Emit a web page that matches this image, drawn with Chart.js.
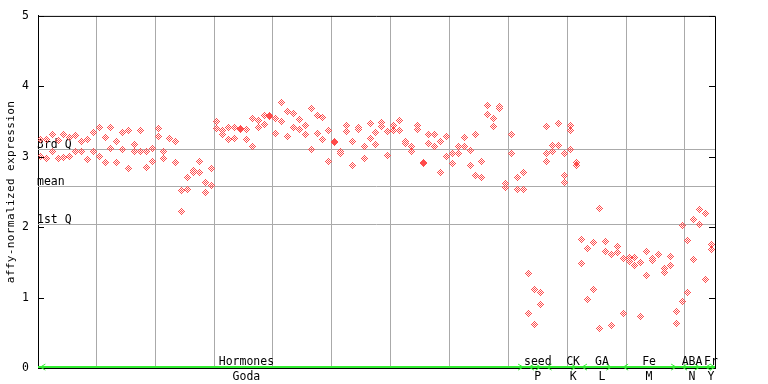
<!DOCTYPE html>
<html>
<head>
<meta charset="utf-8">
<script src="https://cdn.jsdelivr.net/npm/chart.js@4.4.1/dist/chart.umd.min.js"></script>
<style>
  html, body { margin: 0; padding: 0; background: #fff; }
</style>
</head>
<body>
<canvas id="chart" width="768" height="384"></canvas>
<script>
// two replicate values per sample (sample index = position)
const rep1 = [3.25, 3.24, 3.31, 3.23, 3.32, 3.27, 3.30, 3.22, 3.24, 3.34,
  3.42, 3.28, 3.42, 3.21, 3.34, 3.37, 3.18, 3.37, 3.08, 3.12,
  3.40, 3.07, 3.26, 3.21, 2.52, 2.70, 2.80, 2.93, 2.63, 2.83,
  3.50, 3.38, 3.42, 3.42, 3.40, 3.39, 3.54, 3.51, 3.59, 3.58,
  3.54, 3.77, 3.64, 3.61, 3.53, 3.45, 3.69, 3.59, 3.56, 3.38,
  3.22, 3.07, 3.45, 3.21, 3.42, 3.15, 3.47, 3.35, 3.49, 3.36,
  3.45, 3.52, 3.21, 3.15, 3.45, 2.92, 3.32, 3.32, 3.22, 3.29,
  3.04, 3.14, 3.28, 3.09, 3.32, 2.94, 3.73, 3.54, 3.71, 2.62,
  3.32, 2.70, 2.77, 1.35, 1.12, 1.07, 3.43, 3.16, 3.47, 3.04,
  3.45, 2.92, 1.83, 1.70, 1.78, 2.26, 1.80, 1.61, 1.73, 1.56,
  1.57, 1.57, 1.50, 1.66, 1.56, 1.61, 1.42, 1.59, 0.81, 2.02,
  1.81, 2.11, 2.25, 2.19, 1.75];
const rep2 = [3.01, 2.98, 3.07, 2.97, 2.99, 3.00, 3.08, 3.07, 2.96, 3.08,
  3.00, 2.92, 3.12, 2.92, 3.11, 2.83, 3.07, 3.07, 2.85, 2.93,
  3.29, 2.98, 3.26, 2.92, 2.22, 2.54, 2.78, 2.78, 2.49, 2.59,
  3.40, 3.32, 3.25, 3.26, 3.39, 3.25, 3.15, 3.42, 3.46, 3.57,
  3.33, 3.50, 3.29, 3.42, 3.39, 3.31, 3.11, 3.33, 3.25, 2.94,
  3.20, 3.04, 3.36, 2.87, 3.39, 2.98, 3.26, 3.18, 3.43, 3.02,
  3.38, 3.38, 3.19, 3.07, 3.39, 2.90, 3.19, 3.14, 2.78, 3.00,
  2.90, 3.04, 3.15, 2.88, 2.74, 2.70, 3.60, 3.43, 3.69, 2.56,
  3.05, 2.53, 2.53, 0.78, 0.62, 0.90, 3.05, 3.08, 3.16, 2.73,
  3.37, 2.88, 1.49, 0.97, 1.12, 0.56, 1.66, 0.61, 1.64, 0.77,
  1.52, 1.46, 0.73, 1.32, 1.53, 1.61, 1.36, 1.45, 0.64, 0.95,
  1.08, 1.54, 2.04, 1.26, 1.69];
// third replicate where the CK samples have one
const rep3Idx = [86, 87, 88, 89, 90];
const rep3 = [2.94, 3.16, 3.16, 2.64, 3.11];

const yTicks = [0, 1, 2, 3, 4, 5];
const statLabels = ['3rd Q', 'mean', '1st Q'];
const statValues = [3.11, 2.59, 2.04];

const groupTop = ['Hormones', 'seed', 'CK', 'GA', 'Fe', 'ABA', 'Fr'];
const groupBottom = ['Goda', 'P', 'K', 'L', 'M', 'N', 'Y'];
const groupStart = [0, 83, 86, 92, 99, 109, 113];
const groupEnd = [82, 85, 91, 97, 108, 112, 114.6];
const groupCenter = [35, 84.5, 90.5, 95.4, 103.4, 110.7, 113.9];

const RED = '#ff4c4c';
const GREEN = '#33ee33';
const MONO = '"DejaVu Sans Mono", monospace';

// 7x7 checkered diamond marker, like the original bitmap plot
function makeMarker(color) {
  const c = document.createElement('canvas');
  c.width = 7;
  c.height = 7;
  const g = c.getContext('2d');
  g.fillStyle = color;
  for (let dy = -3; dy <= 3; dy++) {
    for (let dx = -3; dx <= 3; dx++) {
      if (Math.abs(dx) + Math.abs(dy) <= 3 && (dx + dy) % 2 !== 0) {
        g.fillRect(dx + 3, dy + 3, 1, 1);
      }
    }
  }
  return c;
}
const marker = makeMarker(RED);

const pts1 = rep1.map((v, i) => ({ x: i, y: v }));
const pts2 = rep2.map((v, i) => ({ x: i, y: v }));
const pts3 = rep3.map((v, i) => ({ x: rep3Idx[i], y: v }));

function pointSet(data) {
  return {
    data: data,
    pointStyle: marker,
    pointRadius: 3.5,
    showLine: false
  };
}

const decorPlugin = {
  id: 'decor',
  beforeDatasetsDraw(chart) {
    const { ctx, chartArea: a, scales: { y } } = chart;
    ctx.save();
    // quartile / mean lines
    ctx.strokeStyle = '#aaaaaa';
    ctx.lineWidth = 1;
    ctx.font = '11.5px ' + MONO;
    ctx.fillStyle = '#000';
    ctx.textAlign = 'left';
    ctx.textBaseline = 'alphabetic';
    statValues.forEach((v, i) => {
      const py = Math.round(y.getPixelForValue(v)) + 0.5;
      ctx.beginPath();
      ctx.moveTo(a.left, py);
      ctx.lineTo(a.right, py);
      ctx.stroke();
      ctx.fillText(statLabels[i], a.left - 1, py - 2);
    });
    ctx.restore();
    ctx.imageSmoothingEnabled = false;
  },
  afterDraw(chart) {
    const { ctx, chartArea: a, scales: { x, y } } = chart;
    ctx.save();
    // frame top + right
    ctx.strokeStyle = '#000';
    ctx.lineWidth = 1;
    ctx.beginPath();
    ctx.moveTo(a.left, a.top + 0.5);
    ctx.lineTo(a.right + 0.5, a.top + 0.5);
    ctx.lineTo(a.right + 0.5, a.bottom);
    ctx.stroke();
    // inner tick marks on both sides
    yTicks.forEach(t => {
      const py = Math.round(y.getPixelForValue(t)) + 0.5;
      ctx.beginPath();
      ctx.moveTo(a.left, py);
      ctx.lineTo(a.left + 6, py);
      ctx.moveTo(a.right, py);
      ctx.lineTo(a.right - 6, py);
      ctx.stroke();
    });

    // green group arrows along the bottom
    const gy = a.bottom - 1;
    ctx.strokeStyle = GREEN;
    ctx.lineWidth = 2;
    ctx.beginPath();
    ctx.moveTo(a.left, gy);
    ctx.lineTo(a.right, gy);
    ctx.stroke();
    ctx.lineWidth = 1;
    groupStart.forEach((s, i) => {
      const x0 = x.getPixelForValue(s);
      const x1 = Math.min(x.getPixelForValue(groupEnd[i]), a.right);
      ctx.beginPath();
      ctx.moveTo(x0 + 5, gy - 3);
      ctx.lineTo(x0, gy);
      ctx.lineTo(x0 + 5, gy + 3);
      ctx.moveTo(x1 - 5, gy - 3);
      ctx.lineTo(x1, gy);
      ctx.lineTo(x1 - 5, gy + 3);
      ctx.stroke();
    });

    // group labels
    ctx.fillStyle = '#000';
    ctx.font = '11.5px ' + MONO;
    ctx.textAlign = 'center';
    ctx.textBaseline = 'alphabetic';
    groupCenter.forEach((c, i) => {
      const px = x.getPixelForValue(c);
      ctx.fillText(groupTop[i], px, a.bottom - 3);
      ctx.fillText(groupBottom[i], px, a.bottom + 12);
    });

    // y axis title
    ctx.translate(11, (a.top + a.bottom) / 2);
    ctx.rotate(-Math.PI / 2);
    ctx.font = '11px ' + MONO;
    ctx.letterSpacing = '0.4px';
    ctx.textAlign = 'center';
    ctx.textBaseline = 'middle';
    ctx.fillText('affy-normalized expression', 0, 0);
    ctx.restore();
  }
};

new Chart(document.getElementById('chart'), {
  type: 'scatter',
  data: { datasets: [pointSet(pts1), pointSet(pts2), pointSet(pts3)] },
  options: {
    responsive: false,
    animation: false,
    events: [],
    layout: { padding: { top: 14, right: 53, bottom: 0, left: 0 } },
    plugins: { legend: { display: false }, tooltip: { enabled: false } },
    scales: {
      x: {
        type: 'linear',
        min: -0.4,
        max: 114.6,
        afterBuildTicks: (scale) => {
          const t = [];
          for (let v = 9.5; v < 114; v += 10) t.push({ value: v });
          scale.ticks = t;
        },
        afterFit: (scale) => { scale.height = 15; },
        ticks: { display: false },
        grid: { color: '#aaaaaa', drawTicks: false, lineWidth: 1 },
        border: { display: true, color: '#000', width: 1 }
      },
      y: {
        min: 0,
        max: 5,
        afterBuildTicks: (scale) => { scale.ticks = yTicks.map(v => ({ value: v })); },
        afterFit: (scale) => { scale.width = 38; },
        ticks: { color: '#000', padding: 9, font: { family: MONO, size: 11.5 } },
        grid: { display: false, drawTicks: false },
        border: { display: true, color: '#000', width: 1 }
      }
    }
  },
  plugins: [decorPlugin]
});
</script>
</body>
</html>
